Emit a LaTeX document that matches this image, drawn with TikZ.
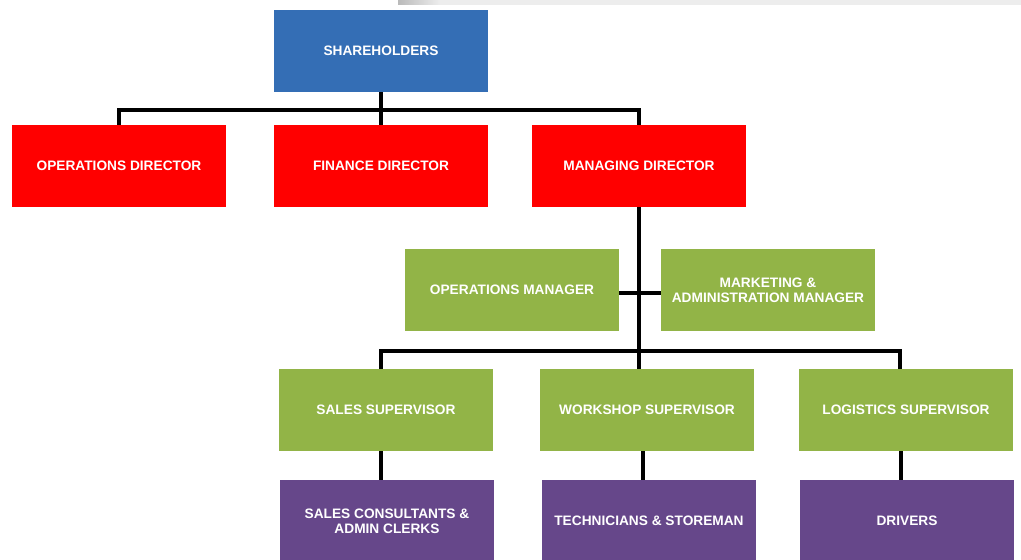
\documentclass[tikz,border=0pt]{standalone}
\usepackage{fontspec}
\setmainfont{Liberation Sans}
\definecolor{shblue}{HTML}{346EB5}
\definecolor{dirred}{HTML}{FF0000}
\definecolor{mgrgreen}{HTML}{92B447}
\definecolor{staffpurple}{HTML}{66478A}
\begin{document}
\begin{tikzpicture}[x=1pt,y=-1pt,
  box/.style={rectangle, inner sep=0pt, minimum width=214pt, minimum height=82pt,
    text=white, align=center, font=\fontsize{13.7}{15}\selectfont\bfseries},
  blue box/.style={box, fill=shblue},
  red box/.style={box, fill=dirred},
  green box/.style={box, fill=mgrgreen},
  purple box/.style={box, fill=staffpurple},
  link/.style={draw=black, line width=3.8pt, line join=miter}]
\useasboundingbox (0,0) rectangle (1021,560);
% top grey bar
\shade[left color=black!27, right color=black!7] (398,0) rectangle (440,4.5);
\fill[black!7] (440,0) rectangle (1021,4.5);
% nodes
\node[blue box] (sh) at (381,51) {SHAREHOLDERS};
\node[red box] (od) at (119,166) {OPERATIONS DIRECTOR};
\node[red box] (fd) at (381,166) {FINANCE DIRECTOR};
\node[red box] (md) at (639,166) {MANAGING DIRECTOR};
\node[green box] (om) at (512,290) {OPERATIONS MANAGER};
\node[green box] (mm) at (768,290) {MARKETING \&\\ADMINISTRATION MANAGER};
\node[green box] (ss) at (386,410) {SALES SUPERVISOR};
\node[green box] (ws) at (647,410) {WORKSHOP SUPERVISOR};
\node[green box] (ls) at (906,410) {LOGISTICS SUPERVISOR};
\node[purple box] (sc) at (387,521) {SALES CONSULTANTS \&\\ADMIN CLERKS};
\node[purple box] (tc) at (649,521) {TECHNICIANS \& STOREMAN};
\node[purple box] (dr) at (907,521) {DRIVERS};
% hubs
\coordinate (h1) at (381,110);
\coordinate (h2) at (639,351);
% connectors
\draw[link] (sh.south) -- (fd.north);
\draw[link] (od.north) |- (h1) -| (md.north);
\draw[link] (md.south) -- (md.south |- ws.north);
\draw[link] ([yshift=-3pt]om.east) -- ([yshift=-3pt]mm.west);
\draw[link] (ss.north -| sh.south) |- (h2) -| ([xshift=-6pt]ls.north);
\draw[link] (ss.south -| sh.south) -- (sc.north -| sh.south);
\draw[link] ([xshift=-4pt]ws.south) -- ([xshift=-6pt]tc.north);
\draw[link] ([xshift=-5pt]ls.south) -- ([xshift=-6pt]dr.north);
\end{tikzpicture}
\end{document}
